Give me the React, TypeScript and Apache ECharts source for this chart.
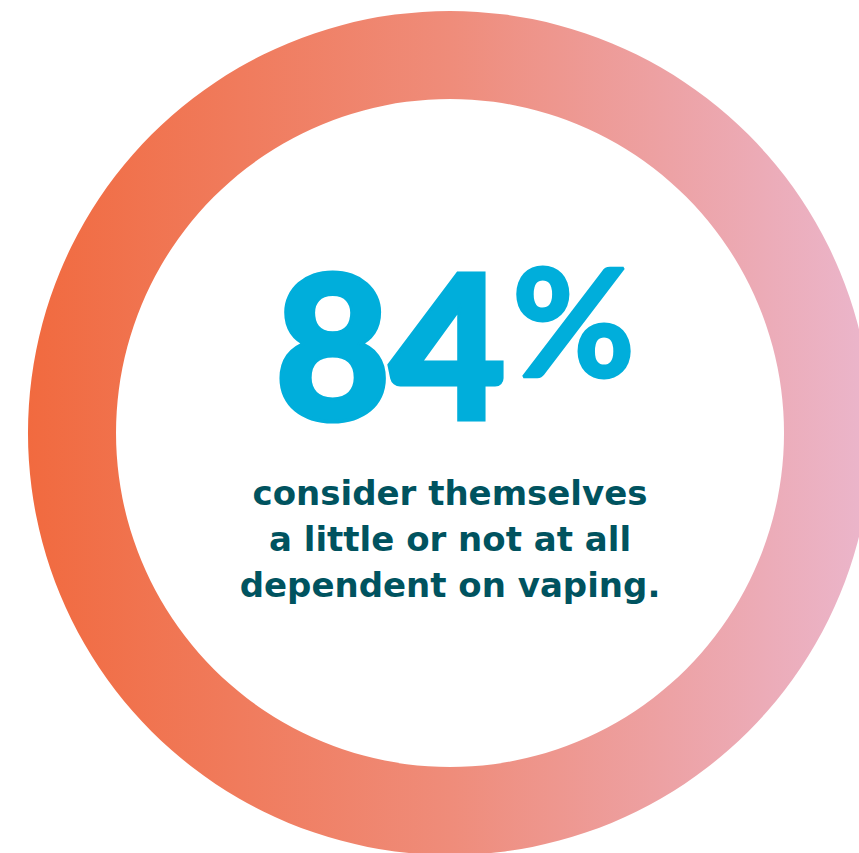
import React, { useEffect, useRef } from "react";
import * as echarts from "echarts";

const headlineValue = 84;
const headlineUnit = "%";
const captionLines = ["consider themselves", "a little or not at all", "dependent on vaping."];
const ringNames = ["all respondents"];
const ringValues = [100];

export default function App() {
  const ref = useRef<HTMLDivElement>(null);
  useEffect(() => {
    if (!ref.current) return;
    const chart = echarts.init(ref.current, undefined, { renderer: "svg" });
    const gradient = {
      type: "linear",
      x: 0,
      y: 0,
      x2: 1,
      y2: 0,
      colorStops: [
        { offset: 0, color: "#F16A3F" },
        { offset: 0.5, color: "#EF8C7A" },
        { offset: 1, color: "#EBB6CC" },
      ],
    };
    const captionFont = "'DejaVu Sans', sans-serif";
    const blue = "#00AEDB";
    chart.setOption({
      animation: false,
      backgroundColor: "#ffffff",
      series: [
        {
          type: "pie",
          silent: true,
          radius: [334, 422],
          center: [450, 433],
          label: { show: false },
          labelLine: { show: false },
          itemStyle: { color: gradient as any, borderWidth: 0 },
          data: ringNames.map((n, i) => ({ name: n, value: ringValues[i] })),
        },
      ],
      graphic: [
        {
          type: "text",
          x: 505,
          y: 341,
          style: {
            text: String(headlineValue),
            fill: blue,
            stroke: blue,
            lineWidth: 7,
            lineJoin: "round",
            font: "bold 198px Lato, sans-serif",
            textAlign: "right",
            textVerticalAlign: "middle",
          },
        },
        {
          type: "text",
          x: 512,
          y: 319,
          style: {
            text: headlineUnit,
            fill: blue,
            stroke: blue,
            lineWidth: 3,
            lineJoin: "round",
            font: "bold 150px Lato, sans-serif",
            textAlign: "left",
            textVerticalAlign: "middle",
          },
        },
        ...captionLines.map((line, i) => ({
          type: "text",
          x: 450,
          y: 493 + i * 46,
          style: {
            text: line,
            fill: "#00535F",
            font: `bold 34px ${captionFont}`,
            textAlign: "center",
            textVerticalAlign: "middle",
          },
        })),
      ],
    });
    return () => chart.dispose();
  }, []);
  return (
    <div
      ref={ref}
      style={{ position: "fixed", left: 0, top: 0, width: 859, height: 853 }}
    />
  );
}
